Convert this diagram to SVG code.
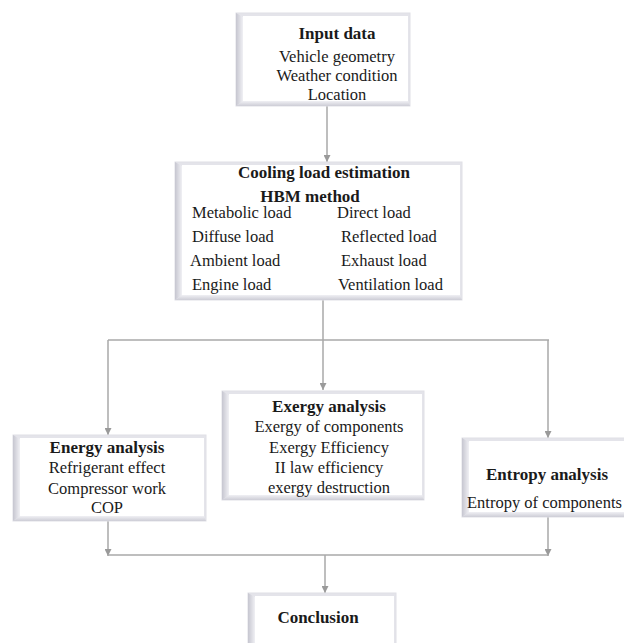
<svg xmlns="http://www.w3.org/2000/svg" width="624" height="643" viewBox="0 0 624 643">
<defs>
<linearGradient id="bevL" x1="0" y1="0" x2="1" y2="0"><stop offset="0" stop-color="#c6c6d0"/><stop offset="1" stop-color="#f0f0f4"/></linearGradient>
<linearGradient id="bevB" x1="0" y1="0" x2="0" y2="1"><stop offset="0" stop-color="#f0f0f4"/><stop offset="1" stop-color="#cdcdd6"/></linearGradient>
<marker id="ah" viewBox="0 0 10 10" refX="10" refY="5" markerWidth="7" markerHeight="7" orient="auto" markerUnits="userSpaceOnUse"><path d="M0,0 L10,5 L0,10 z" fill="#9a9a9a"/></marker>
</defs>
<style>
.outer{fill:#e4e4ea;stroke:#e0e0e6;stroke-width:1}
.inner{fill:#ffffff}
.lb{fill:url(#bevL)}
.bb{fill:url(#bevB)}
.t{font-size:16.5px;fill:#1a1a1a}
.b{font-weight:bold;font-size:17px}
.c{text-anchor:middle}
.ln{stroke:#a8a8a8;stroke-width:1.5;fill:none}
</style>
<rect width="624" height="643" fill="#ffffff"/>
<g id="connectors">
<line class="ln" x1="327" y1="106" x2="327" y2="162" marker-end="url(#ah)"/>
<line class="ln" x1="323" y1="300" x2="323" y2="390" marker-end="url(#ah)"/>
<line class="ln" x1="108" y1="340" x2="549" y2="340"/>
<line class="ln" x1="108" y1="340" x2="108" y2="435" marker-end="url(#ah)"/>
<line class="ln" x1="548" y1="340" x2="548" y2="438" marker-end="url(#ah)"/>
<line class="ln" x1="108" y1="521" x2="108" y2="556" marker-end="url(#ah)"/>
<line class="ln" x1="548" y1="517" x2="548" y2="556" marker-end="url(#ah)"/>
<line class="ln" x1="108" y1="555" x2="548" y2="555"/>
<line class="ln" x1="325" y1="555" x2="325" y2="593" marker-end="url(#ah)"/>
</g>
<g font-family="Liberation Serif, Times New Roman, DejaVu Serif, serif">
<g id="input">
<rect class="outer" x="236" y="13" width="174" height="93"/>
<polygon class="lb" points="236,13 243,17 243,101 236,106"/>
<polygon class="bb" points="236,106 243,101 408,101 410,106"/>
<rect class="inner" x="243" y="16" width="165" height="85"/>
<text class="t b c" x="337" y="39">Input data</text>
<text class="t c" x="337" y="62">Vehicle geometry</text>
<text class="t c" x="337" y="81">Weather condition</text>
<text class="t c" x="337" y="100">Location</text>
</g>
<g id="cooling">
<rect class="outer" x="175" y="162" width="287" height="138"/>
<polygon class="lb" points="175,162 182,166 182,295 175,300"/>
<polygon class="bb" points="175,300 182,295 460,295 462,300"/>
<rect class="inner" x="182" y="165" width="278" height="130"/>
<text class="t b c" x="324" y="178">Cooling load estimation</text>
<text class="t b c" x="310" y="202">HBM method</text>
<text class="t" x="192" y="218">Metabolic load</text>
<text class="t" x="337" y="218">Direct load</text>
<text class="t" x="192" y="242">Diffuse load</text>
<text class="t" x="341" y="242">Reflected load</text>
<text class="t" x="190" y="266">Ambient load</text>
<text class="t" x="341" y="266">Exhaust load</text>
<text class="t" x="192" y="290">Engine load</text>
<text class="t" x="338" y="290">Ventilation load</text>
</g>
<g id="exergy">
<rect class="outer" x="222" y="391" width="202" height="109"/>
<polygon class="lb" points="222,391 229,395 229,495 222,500"/>
<polygon class="bb" points="222,500 229,495 422,495 424,500"/>
<rect class="inner" x="229" y="394" width="193" height="101"/>
<text class="t b c" x="329" y="412">Exergy analysis</text>
<text class="t c" x="329" y="432">Exergy of components</text>
<text class="t c" x="329" y="453">Exergy Efficiency</text>
<text class="t c" x="329" y="473">II law efficiency</text>
<text class="t c" x="329" y="493">exergy destruction</text>
</g>
<g id="energy">
<rect class="outer" x="13" y="435" width="193" height="86"/>
<polygon class="lb" points="13,435 20,439 20,516 13,521"/>
<polygon class="bb" points="13,521 20,516 204,516 206,521"/>
<rect class="inner" x="20" y="438" width="184" height="78"/>
<text class="t b c" x="107" y="453">Energy analysis</text>
<text class="t c" x="107" y="473">Refrigerant effect</text>
<text class="t c" x="107" y="494">Compressor work</text>
<text class="t c" x="107" y="513">COP</text>
</g>
<g id="entropy">
<rect class="outer" x="462" y="438" width="170" height="79"/>
<polygon class="lb" points="462,438 469,442 469,512 462,517"/>
<polygon class="bb" points="462,517 469,512 632,512 632,517"/>
<rect class="inner" x="469" y="441" width="160" height="71"/>
<text class="t b c" x="547" y="480">Entropy analysis</text>
<text class="t" x="467" y="508">Entropy of components</text>
</g>
<g id="conclusion">
<rect class="outer" x="248" y="593" width="148" height="55"/>
<polygon class="lb" points="248,593 255,597 255,648 248,648"/>
<rect class="inner" x="255" y="596" width="139" height="52"/>
<text class="t b c" x="318" y="623">Conclusion</text>
</g>
</g>
</svg>
